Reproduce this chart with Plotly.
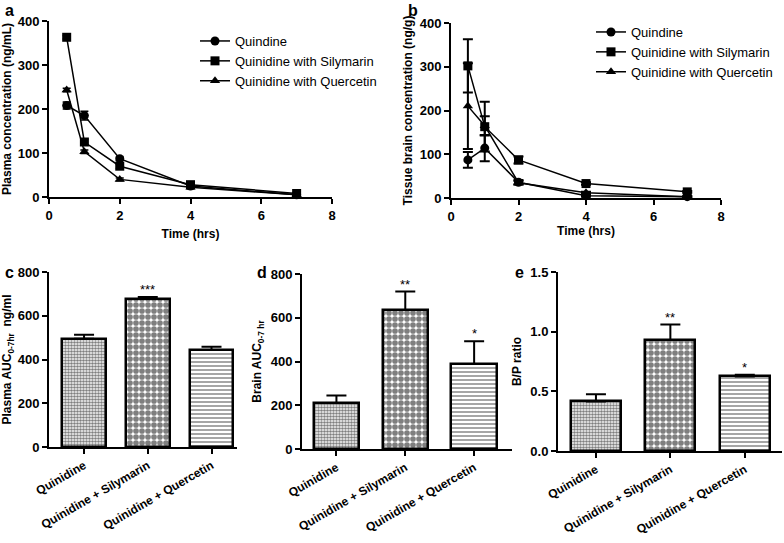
import plotly.graph_objects as go

# ---------------- data ----------------
time = [0.5, 1, 2, 4, 7]

plasma_quin = [208, 185, 87, 25, 5]
plasma_quin_err = [8, 10, 4, 3, 1]
plasma_sily = [363, 125, 70, 28, 8]
plasma_sily_err = [4, 6, 5, 3, 2]
plasma_quer = [243, 103, 40, 22, 5]
plasma_quer_err = [4, 4, 3, 3, 1]

brain_quin = [87, 114, 36, 5, 3]
brain_quin_err = [18, 30, 5, 2, 1]
brain_sily = [302, 163, 87, 33, 14]
brain_sily_err = [61, 57, 8, 3, 2]
brain_quer = [210, 165, 35, 12, 3]
brain_quer_err = [98, 22, 4, 2, 1]

groups = ["Quinidine", "Quinidine + Silymarin", "Quinidine + Quercetin"]
series_names = ["Quindine", "Quinidine with Silymarin", "Quinidine with Quercetin"]

auc_plasma = [495, 678, 443]
auc_plasma_err = [18, 8, 15]
auc_plasma_sig = ["", "***", ""]

auc_brain = [210, 635, 388]
auc_brain_err = [35, 85, 105]
auc_brain_sig = ["", "**", "*"]

bp_ratio = [0.415, 0.93, 0.625]
bp_ratio_err = [0.06, 0.13, 0.015]
bp_ratio_sig = ["", "**", "*"]

# ---------------- layout helpers ----------------
W, H = 784, 543
FONT = "Arial, Liberation Sans, sans-serif"


def xd(a, b):
    return [a / W, b / W]


def yd(top, bottom):
    return [1 - bottom / H, 1 - top / H]


fig = go.Figure()

symbols = ["circle", "square", "triangle-up"]

# Panel a
for name, ys, es, sym in zip(series_names,
                             [plasma_quin, plasma_sily, plasma_quer],
                             [plasma_quin_err, plasma_sily_err, plasma_quer_err],
                             symbols):
    fig.add_trace(go.Scatter(
        x=time, y=ys, name=name, mode="lines+markers",
        line=dict(color="black", width=1.5),
        marker=dict(symbol=sym, size=9, color="black"),
        error_y=dict(type="data", array=es, color="black", thickness=1.5, width=4),
        xaxis="x", yaxis="y", legend="legend", cliponaxis=False))

# Panel b
for name, ys, es, sym in zip(series_names,
                             [brain_quin, brain_sily, brain_quer],
                             [brain_quin_err, brain_sily_err, brain_quer_err],
                             symbols):
    fig.add_trace(go.Scatter(
        x=time, y=ys, name=name, mode="lines+markers",
        line=dict(color="black", width=1.5),
        marker=dict(symbol=sym, size=9, color="black"),
        error_y=dict(type="data", array=es, color="black", thickness=2, width=5),
        xaxis="x2", yaxis="y2", legend="legend2", cliponaxis=False))

patterns = [dict(shape=".", size=3, solidity=0.6, fgcolor="black", bgcolor="white"),
            dict(shape=".", size=6, solidity=0.7, fgcolor="black", bgcolor="white"),
            dict(shape="-", size=4, solidity=0.35, fgcolor="black", bgcolor="white")]

bar_panels = [
    (auc_plasma, auc_plasma_err, auc_plasma_sig, "x3", "y3", 0.69),
    (auc_brain, auc_brain_err, auc_brain_sig, "x4", "y4", 0.66),
    (bp_ratio, bp_ratio_err, bp_ratio_sig, "x5", "y5", 0.67),
]

for vals, errs, sigs, xa, ya, w in bar_panels:
    for i, g in enumerate(groups):
        fig.add_trace(go.Bar(
            x=[g], y=[vals[i]], width=w, showlegend=False,
            marker=dict(color="white", line=dict(color="black", width=2.5),
                        pattern=patterns[i]),
            error_y=dict(type="data", symmetric=False, array=[errs[i]],
                         arrayminus=[0], color="black", thickness=2, width=10),
            xaxis=xa, yaxis=ya))
        if sigs[i]:
            fig.add_annotation(x=g, y=vals[i] + errs[i], text=sigs[i],
                               xref=xa, yref=ya, showarrow=False,
                               yanchor="bottom", yshift=-2,
                               font=dict(size=13, color="black", family=FONT))

axis_common = dict(showline=True, linecolor="black", linewidth=2, ticks="outside",
                   tickcolor="black", tickwidth=2, ticklen=5, showgrid=False,
                   zeroline=False, automargin=False,
                   tickfont=dict(family=FONT, size=13, color="black", weight="bold"))
bar_x_common = dict(axis_common)
bar_x_common["tickfont"] = dict(family=FONT, size=12, color="black", weight="bold")
title_font = dict(family=FONT, size=12, color="black", weight="bold")

fig.update_layout(
    width=W, height=H, autosize=False,
    margin=dict(l=0, r=0, t=0, b=0),
    paper_bgcolor="white", plot_bgcolor="white",
    font=dict(family=FONT, color="black"),
    bargap=0,
    xaxis=dict(domain=xd(49, 332), range=[0, 8], tickvals=[0, 2, 4, 6, 8],
               title=dict(text="Time (hrs)", font=title_font, standoff=8),
               anchor="y", **axis_common),
    yaxis=dict(domain=yd(21, 197), range=[0, 400], tickvals=[0, 100, 200, 300, 400],
               title=dict(text="Plasma concentration (ng/mL)", font=title_font, standoff=4),
               anchor="x", **axis_common),
    xaxis2=dict(domain=xd(451, 721), range=[0, 8], tickvals=[0, 2, 4, 6, 8],
                title=dict(text="Time (hrs)", font=title_font, standoff=2),
                anchor="y2", **axis_common),
    yaxis2=dict(domain=yd(23, 198), range=[0, 400], tickvals=[0, 100, 200, 300, 400],
                title=dict(text="Tissue brain concentration (ng/g)", font=title_font, standoff=4),
                anchor="x2", **axis_common),
    xaxis3=dict(domain=xd(49, 237), range=[-0.55, 2.4], tickangle=-30,
                anchor="y3", **bar_x_common),
    yaxis3=dict(domain=yd(272, 447), range=[0, 800], tickvals=[0, 200, 400, 600, 800],
                title=dict(text="Plasma AUC<sub>0-7hr</sub>  ng/ml", font=title_font, standoff=6),
                anchor="x3", **axis_common),
    xaxis4=dict(domain=xd(302, 512), range=[-0.5, 2.55], tickangle=-30,
                anchor="y4", **bar_x_common),
    yaxis4=dict(domain=yd(274, 449), range=[0, 800], tickvals=[0, 200, 400, 600, 800],
                title=dict(text="Brain AUC<sub>0-7 hr</sub>", font=title_font, standoff=6),
                anchor="x4", **axis_common),
    xaxis5=dict(domain=xd(558, 782), range=[-0.51, 2.5], tickangle=-30,
                anchor="y5", **bar_x_common),
    yaxis5=dict(domain=yd(272, 451), range=[0, 1.5], tickvals=[0, 0.5, 1.0, 1.5],
                tickformat=".1f",
                title=dict(text="B/P ratio", font=title_font, standoff=6),
                anchor="x5", **axis_common),
    legend=dict(x=195 / W, y=1 - 26 / H, xanchor="left", yanchor="top",
                bgcolor="rgba(0,0,0,0)", tracegroupgap=0, itemwidth=30,
                font=dict(family=FONT, size=13, color="black")),
    legend2=dict(x=591 / W, y=1 - 17 / H, xanchor="left", yanchor="top",
                 bgcolor="rgba(0,0,0,0)", tracegroupgap=0, itemwidth=30,
                 font=dict(family=FONT, size=13, color="black")),
)

labels = [("a", 3, 0), ("b", 406, 0), ("c", 3, 262), ("d", 255, 262), ("e", 513, 262)]
for t, px, py in labels:
    fig.add_annotation(text=t, x=px / W, y=1 - py / H, xref="paper", yref="paper",
                       xanchor="left", yanchor="top", showarrow=False,
                       font=dict(family=FONT, size=16, color="black", weight="bold"))

fig.write_html("out.html", config={"displayModeBar": False},
               post_script="document.body.style.margin='0';document.body.style.overflow='hidden';")
